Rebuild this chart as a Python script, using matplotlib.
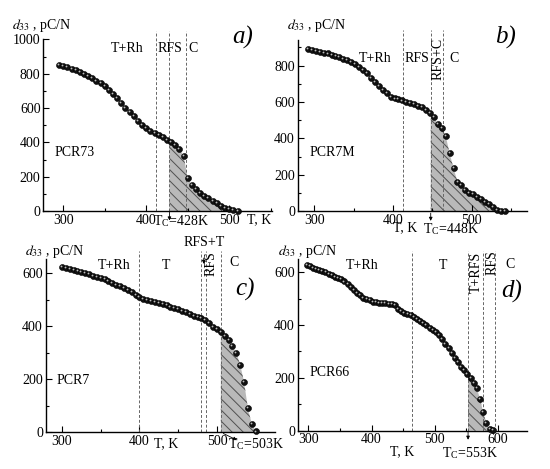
import matplotlib
matplotlib.use('Agg')
import matplotlib.pyplot as plt
import matplotlib.transforms as mtrans
from matplotlib.ticker import MultipleLocator
import numpy as np

plt.rcParams['font.family'] = ['Liberation Serif', 'DejaVu Serif']
plt.rcParams['mathtext.fontset'] = 'stix'
plt.rcParams['hatch.color'] = '#505050'
plt.rcParams['hatch.linewidth'] = 0.7

# ---------------- data ----------------
T_a = [295, 300, 305, 310, 315, 320, 325, 330, 335, 340, 345, 350, 355, 360, 365,
       370, 375, 380, 385, 390, 395, 400, 405, 410, 415, 420, 425, 430, 435, 440,
       445, 450, 455, 460, 465, 470, 475, 480, 485, 490, 495, 500, 505, 510]
d_a = [849, 846, 838, 830, 821, 810, 798, 786, 773, 759, 744, 727, 708, 684, 658,
       630, 603, 577, 552, 527, 503, 482, 466, 453, 443, 430, 417, 402, 384, 364,
       322, 195, 153, 128, 108, 90, 75, 60, 46, 33, 21, 12, 6, 2]

T_b = [292, 297, 302, 307, 312, 317, 322, 327, 332, 337, 342, 347, 352, 357, 362,
       367, 372, 377, 382, 387, 392, 397, 402, 407, 412, 417, 422, 427, 432, 437,
       442, 447, 452, 457, 462, 467, 472, 477, 482, 487, 492, 497, 502, 507, 512,
       517, 522, 527, 532, 537, 542]
d_b = [893, 884, 878, 875, 871, 866, 860, 853, 846, 836, 829, 818, 807, 793, 778,
       760, 734, 709, 687, 668, 647, 628, 619, 614, 608, 601, 595, 588, 579, 570,
       555, 537, 515, 479, 455, 415, 318, 236, 163, 142, 117, 102, 93, 80, 66,
       53, 40, 26, 7, 4, 0]

T_c = [300, 305, 310, 315, 320, 325, 330, 335, 340, 345, 350, 355, 360, 365, 370,
       375, 380, 385, 390, 395, 400, 405, 410, 415, 420, 425, 430, 435, 440, 445,
       450, 455, 460, 465, 470, 475, 480, 485, 490, 495, 500, 505, 510, 515, 520,
       525, 530, 535, 540, 545, 550]
d_c = [624, 620, 616, 612, 608, 604, 600, 596, 591, 587, 582, 577, 570, 563, 557,
       551, 543, 537, 529, 519, 509, 503, 498, 494, 491, 488, 485, 480, 474, 469,
       466, 459, 453, 446, 440, 436, 430, 422, 411, 399, 390, 377, 364, 347, 325,
       300, 255, 190, 90, 30, 3]

T_d = [297, 302, 307, 312, 317, 322, 327, 332, 337, 342, 347, 352, 357, 362, 367,
       372, 377, 382, 387, 392, 397, 402, 407, 412, 417, 422, 427, 432, 437, 442,
       447, 452, 457, 462, 467, 472, 477, 482, 487, 492, 497, 502, 507, 512, 517,
       522, 527, 532, 537, 542, 547, 552, 557, 562, 567, 572, 577, 582, 587, 592]
d_d = [628, 623, 616, 611, 608, 605, 601, 595, 588, 583, 578, 573, 565, 556, 545,
       534, 523, 514, 503, 498, 494, 489, 487, 485, 484, 483, 481, 480, 477, 460,
       452, 447, 443, 439, 432, 424, 416, 408, 400, 390, 382, 373, 362, 346, 330,
       312, 294, 277, 259, 243, 229, 214, 198, 182, 160, 120, 70, 28, 8, 2]

bounds_a = [412, 428, 448]
bounds_b = [413, 448, 463]
bounds_c = [400, 480, 486, 505]
bounds_d = [464, 553, 576, 596]
Tc_a, Tc_b, Tc_c, Tc_d = 428, 448, 505, 553

W, H = 550, 469
fig = plt.figure(figsize=(W / 100, H / 100), dpi=100)

FS = 10


def ptext(x, y, s, **kw):
    kw.setdefault('fontsize', FS)
    kw.setdefault('va', 'center')
    fig.text(x / W, 1 - y / H, s, **kw)


def setup(rect, xlim, ylim, ymaj, ymin):
    ax = fig.add_axes(rect)
    ax.set_xlim(*xlim)
    ax.set_ylim(*ylim)
    for s in ['top', 'right']:
        ax.spines[s].set_visible(False)
    for s in ['left', 'bottom']:
        ax.spines[s].set_linewidth(1.0)
    ax.xaxis.set_major_locator(MultipleLocator(100))
    ax.xaxis.set_minor_locator(MultipleLocator(50))
    ax.yaxis.set_major_locator(MultipleLocator(ymaj))
    ax.yaxis.set_minor_locator(MultipleLocator(ymin))
    ax.tick_params(which='both', direction='in', labelsize=FS, pad=2, width=0.8)
    ax.tick_params(which='major', length=4)
    ax.tick_params(which='minor', length=2)
    ax.patch.set_alpha(0)
    return ax


def draw(ax, T, d, Tc, bounds, ytop):
    T = np.asarray(T, float)
    d = np.asarray(d, float)
    sel = T > Tc
    xs = np.concatenate([[Tc], T[sel]])
    ys = np.concatenate([[np.interp(Tc, T, d)], d[sel]])
    ax.fill_between(xs, ys, 0, facecolor='#b9b9b9', edgecolor='#505050',
                    hatch='\\\\\\', linewidth=0, zorder=1)
    for b in bounds:
        ax.plot([b, b], [0, ytop], ls=(0, (3, 2)), color='#666666', lw=0.7,
                clip_on=False, zorder=2)
    ax.plot(T, d, 'o', ms=4.3, mfc='#111111', mec='#000000', mew=0.4,
            zorder=4, clip_on=False)
    off = mtrans.offset_copy(ax.transData, fig=fig, x=-0.7, y=0.7, units='points')
    ax.plot(T, d, 'o', ms=1.3, mfc='#bdbdbd', mec='none', transform=off,
            zorder=5, clip_on=False)


ylab = r'$d_{33}$ , pC/N'
arrow = dict(arrowstyle='-|>', lw=0.6, color='black', mutation_scale=5)

# ---------------- panel a ----------------
ax = setup([0.0787, 0.5495, 0.415, 0.3667], (276, 551), (0, 1000), 200, 100)
draw(ax, T_a, d_a, Tc_a, bounds_a, 1046)
ax.annotate('', xy=(Tc_a, -70), xytext=(Tc_a, 15), arrowprops=arrow,
            annotation_clip=False)
ptext(12, 25, ylab)
ptext(243, 37, 'a)', fontsize=18, style='italic', ha='center')
ptext(127, 48, 'T+Rh', ha='center')
ptext(170, 48, 'RFS', ha='center')
ptext(192.7, 48, 'C', ha='center')
ptext(55, 152.7, 'PCR73')
ptext(259, 220, 'T, K', ha='center')
ptext(153, 221, r'T$_\mathregular{C}$=428K')

# ---------------- panel b ----------------
ax = setup([0.5413, 0.5495, 0.4164, 0.3652], (279, 570), (0, 940), 200, 100)
draw(ax, T_b, d_b, Tc_b, bounds_b, 995)
ax.annotate('', xy=(Tc_b, -68), xytext=(Tc_b, 5), arrowprops=arrow,
            annotation_clip=False)
ptext(286.7, 25, ylab)
ptext(506, 37, 'b)', fontsize=18, style='italic', ha='center')
ptext(375, 59, 'T+Rh', ha='center')
ptext(417, 59, 'RFS', ha='center')
ptext(438.3, 59, 'RFS+C', ha='center', rotation=90)
ptext(454, 59, 'C', ha='center')
ptext(310, 152.7, 'PCR7M')
ptext(405, 228, 'T, K', ha='center')
ptext(423, 229, r'T$_\mathregular{C}$=448K')

# ---------------- panel c ----------------
ax = setup([0.0831, 0.0783, 0.417, 0.3695], (279, 575), (0, 654), 200, 100)
draw(ax, T_c, d_c, Tc_c, bounds_c, 684)
ax.annotate('', xy=(483, 625), xytext=(483, 668), arrowprops=arrow,
            annotation_clip=False)
ax.annotate('', xy=(529, -34), xytext=(Tc_c, 0), arrowprops=arrow,
            annotation_clip=False)
ptext(25, 251, ylab)
ptext(245, 289, 'c)', fontsize=18, style='italic', ha='center')
ptext(114, 265, 'T+Rh', ha='center')
ptext(165.7, 265, 'T', ha='center')
ptext(204, 243, 'RFS+T', ha='center')
ptext(211.5, 264, 'RFS', ha='center', rotation=90)
ptext(234, 262, 'C', ha='center')
ptext(56.7, 380.7, 'PCR7')
ptext(165.7, 444, 'T, K', ha='center')
ptext(228, 444, r'T$_\mathregular{C}$=503K')

# ---------------- panel d ----------------
ax = setup([0.5413, 0.0817, 0.4164, 0.366], (283, 646), (0, 650), 200, 100)
draw(ax, T_d, d_d, Tc_d, bounds_d, 680)
ax.annotate('', xy=(Tc_d, -45), xytext=(Tc_d, 5), arrowprops=arrow,
            annotation_clip=False)
ptext(278, 251, ylab)
ptext(511.7, 291, 'd)', fontsize=18, style='italic', ha='center')
ptext(361.7, 265, 'T+Rh', ha='center')
ptext(443.3, 265, 'T', ha='center')
ptext(476, 272, 'T+RFS', ha='center', rotation=90)
ptext(491.7, 263, 'RFS', ha='center', rotation=90)
ptext(510, 264, 'C', ha='center')
ptext(310, 372, 'PCR66')
ptext(402.5, 452, 'T, K', ha='center')
ptext(441.7, 453, r'T$_\mathregular{C}$=553K')

fig.savefig('out.png', dpi=100)
